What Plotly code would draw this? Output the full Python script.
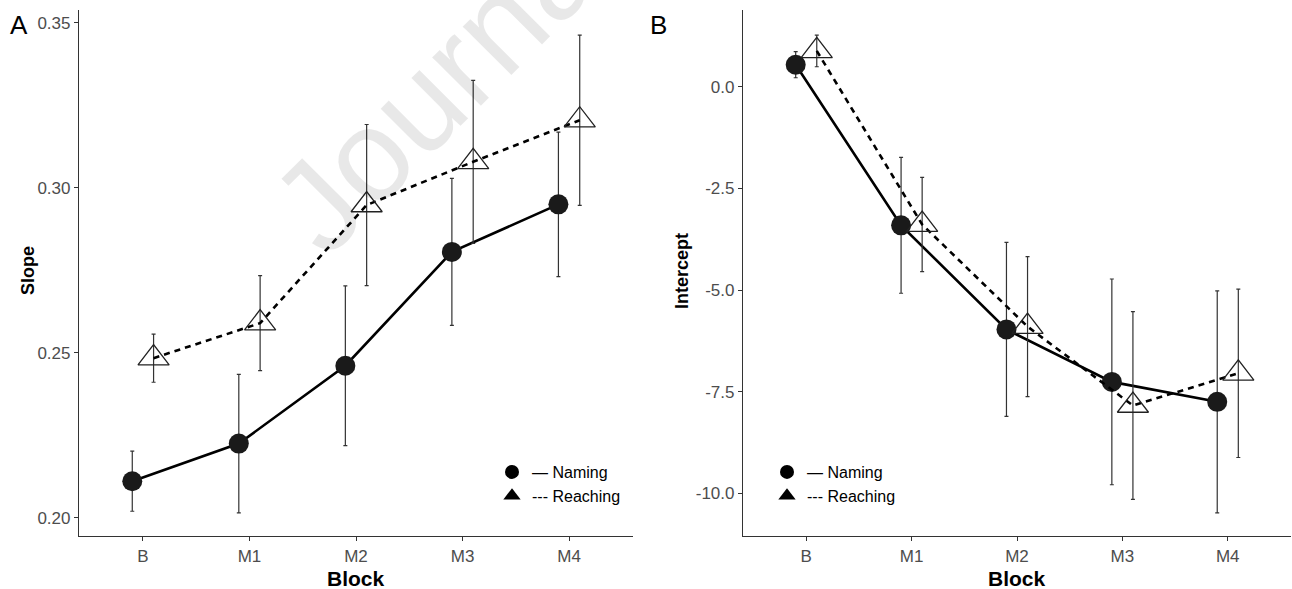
import numpy as np
import plotly.graph_objects as go

# ---------------- data ----------------
blocks = ["B", "M1", "M2", "M3", "M4"]

slope_naming = [0.2111, 0.2225, 0.2461, 0.2806, 0.2950]
slope_naming_err = [0.0091, 0.0210, 0.0242, 0.0223, 0.0219]
slope_reaching = [0.2484, 0.2590, 0.2948, 0.3079, 0.3205]
slope_reaching_err = [0.0073, 0.0144, 0.0244, 0.0247, 0.0258]

int_naming = [0.54, -3.41, -5.97, -7.26, -7.75]
int_naming_err = [0.32, 1.67, 2.14, 2.53, 2.73]
int_reaching = [0.88, -3.39, -5.90, -7.84, -7.05]
int_reaching_err = [0.39, 1.16, 1.72, 2.31, 2.07]

slope_ticks = [0.20, 0.25, 0.30, 0.35]
slope_ticktext = ["0.20", "0.25", "0.30", "0.35"]
int_ticks = [0.0, -2.5, -5.0, -7.5, -10.0]
int_ticktext = ["0.0", "-2.5", "-5.0", "-7.5", "-10.0"]

# ---------------- layout helpers ----------------
W, H = 1292, 589
def px(x):
    return x / W
def py(y):
    return 1 - y / H

idx = np.arange(len(blocks))
dodge = 0.1
x_nam = idx - dodge
x_rea = idx + dodge

FONT = "Liberation Sans, Arial, sans-serif"
AX = "#333333"
TICKC = "#4d4d4d"

fig = go.Figure()

def add_series(xa, ya, xs, ys, errs, naming):
    if naming:
        fig.add_trace(go.Scatter(
            x=xs, y=ys, xaxis=xa, yaxis=ya, mode="lines+markers",
            line=dict(color="black", width=2.6),
            marker=dict(symbol="circle", size=20, color="#1a1a1a"),
            error_y=dict(type="data", array=errs, visible=True,
                         color=AX, thickness=1.2, width=2),
            showlegend=False))
    else:
        fig.add_trace(go.Scatter(
            x=xs, y=ys, xaxis=xa, yaxis=ya, mode="lines+markers",
            line=dict(color="black", width=2.6, dash="6px,5px"),
            marker=dict(symbol="triangle-up-open", size=27, color="#222222",
                        line=dict(width=1.3, color="#222222")),
            error_y=dict(type="data", array=errs, visible=True,
                         color=AX, thickness=1.2, width=2),
            showlegend=False))

add_series("x", "y", x_nam, slope_naming, slope_naming_err, True)
add_series("x", "y", x_rea, slope_reaching, slope_reaching_err, False)
add_series("x2", "y2", x_nam, int_naming, int_naming_err, True)
add_series("x2", "y2", x_rea, int_reaching, int_reaching_err, False)

# legend entries
for xa, ya, lg in [("x", "y", "legend"), ("x2", "y2", "legend2")]:
    fig.add_trace(go.Scatter(x=[None], y=[None], xaxis=xa, yaxis=ya, mode="markers",
                             marker=dict(symbol="circle", size=14, color="black"),
                             name="— Naming", legend=lg, showlegend=True))
    fig.add_trace(go.Scatter(x=[None], y=[None], xaxis=xa, yaxis=ya, mode="markers",
                             marker=dict(symbol="triangle-up", size=15, color="black"),
                             name="--- Reaching", legend=lg, showlegend=True))

axis_common = dict(showline=True, linecolor=AX, linewidth=1.2, ticks="outside",
                   ticklen=4, tickwidth=1.1, tickcolor=AX, showgrid=False,
                   zeroline=False, automargin=False,
                   tickfont=dict(family=FONT, size=17, color=TICKC))

fig.update_layout(
    width=W, height=H, margin=dict(l=0, r=0, t=0, b=0),
    paper_bgcolor="white", plot_bgcolor="white",
    font=dict(family=FONT, color="black"),
    xaxis=dict(domain=[px(79), px(633)], range=[-0.6, 4.6], tickvals=list(idx),
               ticktext=blocks, anchor="y", **axis_common),
    yaxis=dict(domain=[py(536), py(10)], range=[0.1945, 0.3539], tickvals=slope_ticks,
               ticktext=slope_ticktext, anchor="x", **axis_common),
    xaxis2=dict(domain=[px(743), px(1291)], range=[-0.6, 4.6], tickvals=list(idx),
                ticktext=blocks, anchor="y2", **axis_common),
    yaxis2=dict(domain=[py(536), py(10)], range=[-11.05, 1.886], tickvals=int_ticks,
                ticktext=int_ticktext, anchor="x2", **axis_common),
    legend=dict(x=px(492), y=py(455), xanchor="left", yanchor="top",
                bgcolor="rgba(0,0,0,0)", tracegroupgap=0, itemsizing="trace",
                font=dict(family=FONT, size=16, color="black")),
    legend2=dict(x=px(767), y=py(455), xanchor="left", yanchor="top",
                 bgcolor="rgba(0,0,0,0)", tracegroupgap=0, itemsizing="trace",
                 font=dict(family=FONT, size=16, color="black")),
)

ann = [
    dict(text="Journal", x=px(445), y=py(78), textangle=-45,
         font=dict(family=FONT, size=130, color="rgba(0,0,0,0.09)")),
    dict(text="A", x=px(19), y=py(25), font=dict(family=FONT, size=26, color="black")),
    dict(text="B", x=px(658), y=py(25), font=dict(family=FONT, size=26, color="black")),
    dict(text="<b>Slope</b>", x=px(28), y=py(271), textangle=-90,
         font=dict(family=FONT, size=18, color="black")),
    dict(text="<b>Intercept</b>", x=px(682), y=py(271), textangle=-90,
         font=dict(family=FONT, size=18, color="black")),
    dict(text="<b>Block</b>", x=px(356), y=py(578),
         font=dict(family=FONT, size=21, color="black")),
    dict(text="<b>Block</b>", x=px(1017), y=py(578),
         font=dict(family=FONT, size=21, color="black")),
]
for a in ann:
    a.update(xref="paper", yref="paper", showarrow=False, xanchor="center", yanchor="middle")
fig.update_layout(annotations=ann)

fig.write_html(
    "out.html",
    config={"displayModeBar": False},
    post_script="document.body.style.margin='0px';document.body.style.padding='0px';"
                "document.body.style.overflow='hidden';",
)
